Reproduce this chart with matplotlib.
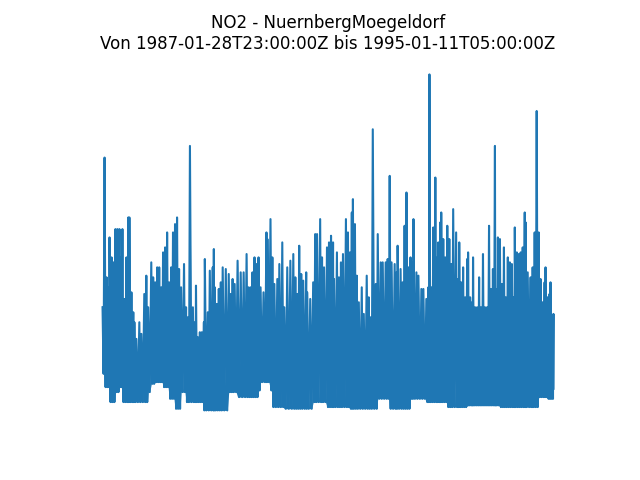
import numpy as np
import matplotlib
matplotlib.use("Agg")
import matplotlib.pyplot as plt

station = "NuernbergMoegeldorf"
pollutant = "NO2"
start = "1987-01-28T23:00:00Z"
end = "1995-01-11T05:00:00Z"

# days since start of each read-off sample
days = [0, 13, 26, 38, 45, 58, 70, 83, 96, 109,
        115, 128, 141, 154, 166, 173, 186, 198, 205, 218,
        237, 250, 269, 282, 294, 314, 326, 339, 352, 365,
        378, 390, 403, 416, 429, 442, 454, 467, 480, 493,
        506, 525, 538, 550, 563, 582, 595, 602, 614, 627,
        640, 653, 659, 678, 691, 710, 717, 723, 736, 749,
        762, 774, 794, 813, 826, 838, 851, 870, 890, 909,
        928, 941, 954, 966, 979, 992, 1005, 1018, 1037, 1056,
        1062, 1082, 1094, 1107, 1126, 1139, 1158, 1171, 1190, 1210,
        1229, 1242, 1254, 1267, 1280, 1293, 1312, 1318, 1338, 1357,
        1370, 1382, 1402, 1414, 1427, 1446, 1459, 1472, 1485, 1491,
        1510, 1523, 1536, 1549, 1568, 1581, 1594, 1606, 1613, 1626,
        1638, 1651, 1670, 1683, 1702, 1715, 1728, 1741, 1760, 1773,
        1792, 1805, 1824, 1837, 1850, 1862, 1882, 1894, 1901, 1920,
        1933, 1946, 1958, 1971, 1984, 1997, 2003, 2022, 2035, 2054,
        2067, 2086, 2099, 2106, 2118, 2131, 2144, 2157, 2163, 2176,
        2182, 2195, 2208, 2221, 2234, 2246, 2259, 2278, 2291, 2298,
        2310, 2323, 2336, 2349, 2355, 2368, 2381, 2387, 2400, 2413,
        2426, 2438, 2451, 2464, 2477, 2490, 2502, 2515, 2528, 2534,
        2547, 2560, 2573, 2586, 2598, 2611, 2624, 2637, 2650, 2656,
        2669, 2682, 2694, 2707, 2720, 2726, 2739, 2758, 2765, 2771,
        2784, 2797, 2810, 2822, 2835, 2848, 2854, 2867, 2880, 2886,
        2899, 2905]

# local maxima of the concentration
highs = [62, 152, 80, 74, 104, 92, 89, 109, 109, 109,
         92, 109, 67, 92, 116, 116, 71, 59, 53, 43,
         53, 46, 70, 81, 62, 89, 80, 77, 86, 86,
         74, 95, 98, 107, 77, 86, 107, 112, 116, 85,
         74, 88, 62, 56, 159, 62, 53, 75, 44, 47,
         47, 53, 91, 59, 84, 86, 97, 74, 64, 73,
         77, 86, 85, 82, 70, 79, 76, 90, 83, 83,
         94, 74, 74, 83, 92, 88, 92, 74, 71, 107,
         103, 115, 92, 76, 79, 88, 101, 62, 86, 90,
         94, 80, 70, 99, 82, 78, 83, 71, 67, 77,
         106, 106, 115, 92, 86, 98, 101, 105, 101, 79,
         95, 80, 89, 94, 115, 107, 95, 119, 127, 112,
         81, 65, 74, 58, 81, 68, 56, 169, 76, 106,
         89, 89, 89, 91, 141, 89, 88, 83, 99, 85,
         77, 111, 131, 86, 92, 89, 115, 83, 81, 73,
         73, 67, 74, 202, 74, 110, 140, 92, 101, 113,
         119, 103, 92, 111, 103, 88, 121, 107, 79, 101,
         77, 86, 68, 91, 95, 68, 65, 92, 62, 62,
         80, 62, 94, 62, 62, 111, 73, 85, 159, 73,
         104, 103, 76, 98, 68, 92, 89, 88, 68, 110,
         95, 94, 95, 98, 119, 113, 83, 80, 77, 86,
         107, 180, 107, 79, 65, 77, 86, 68, 70, 77,
         56, 58]

# local minima of the concentration (between consecutive maxima)
lows = [22, 14, 14, 14, 5, 5, 5, 11, 11, 14,
        14, 5, 5, 5, 5, 5, 5, 5, 5, 5,
        5, 5, 5, 5, 11, 16, 16, 17, 17, 17,
        17, 14, 14, 14, 7, 7, 7, 1, 1, 1,
        11, 11, 5, 5, 5, 5, 5, 5, 5, 5,
        5, 0, 0, 0, 0, 0, 0, 0, 0, 0,
        0, 0, 0, 11, 11, 11, 11, 8, 8, 8,
        8, 8, 8, 8, 8, 8, 12, 17, 17, 17,
        17, 12, 2, 2, 2, 2, 2, 1, 1, 1,
        1, 1, 1, 1, 1, 1, 1, 1, 1, 5,
        5, 5, 5, 5, 5, 2, 2, 2, 2, 2,
        2, 2, 2, 2, 2, 2, 1, 1, 1, 1,
        1, 1, 1, 1, 1, 1, 1, 1, 1, 7,
        7, 7, 7, 7, 1, 1, 1, 1, 1, 1,
        1, 1, 1, 1, 7, 7, 7, 7, 7, 7,
        7, 5, 5, 5, 5, 5, 5, 5, 5, 5,
        5, 5, 5, 2, 2, 2, 2, 2, 2, 2,
        2, 2, 2, 3, 3, 3, 3, 3, 3, 3,
        3, 3, 3, 3, 3, 3, 3, 3, 3, 3,
        3, 2, 2, 2, 2, 2, 2, 2, 2, 2,
        2, 2, 2, 2, 2, 2, 2, 2, 2, 2,
        2, 2, 8, 8, 8, 8, 8, 7, 7, 7,
        7, 13]

n = min(len(days), len(highs), len(lows))
d = np.array(days[:n], dtype=float)
# place each minimum halfway between its maximum and the next one
d_low = np.append((d[:-1] + d[1:]) / 2, d[-1])
t0 = np.datetime64("1987-01-28T23:00")
t_high = t0 + np.round(d * 24).astype("timedelta64[h]")
t_low = t0 + np.round(d_low * 24).astype("timedelta64[h]")
x = np.column_stack([t_high, t_low]).ravel()
y = np.column_stack([np.array(highs[:n]), np.array(lows[:n])]).ravel()
base = np.repeat(np.array(lows[:n]), 2)

color = "#1f77b4"
fig, ax = plt.subplots(figsize=(6.4, 4.8), dpi=100)
ax.fill_between(x, base, y, color=color, linewidth=0)
ax.plot(x, y, color=color, linewidth=1.5)
ax.set_title(f"{pollutant} - {station}\nVon {start} bis {end}")
ax.axis("off")
fig.savefig("out.png", dpi=100)
